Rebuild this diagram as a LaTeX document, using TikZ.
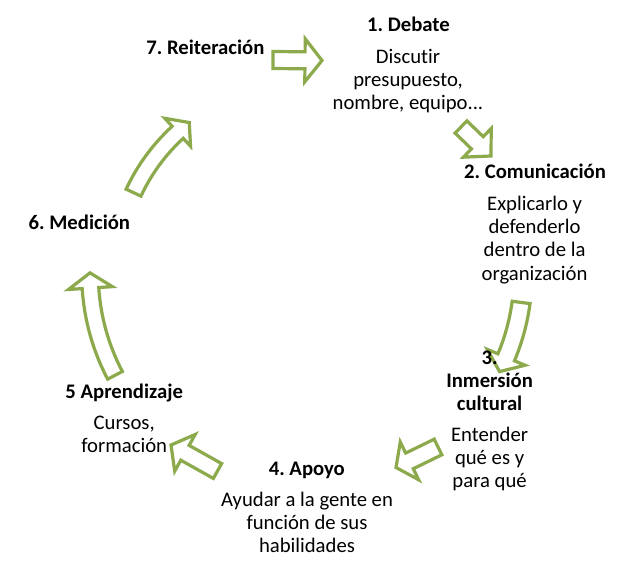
\documentclass[tikz,border=0pt]{standalone}
\usepackage{fontspec}
\setmainfont{Carlito}[Ligatures=NoCommon]
\usetikzlibrary{calc}
\definecolor{arrgreen}{HTML}{8CAA4C}
\frenchspacing
\newcommand\blockarrow[5]{%
  \coordinate (#2-b) at ($(#2)!#5!(#1)$);
  \draw[arr] ($(#1)!#3!90:(#2)$) -- ($(#2-b)!#3!90:(#2)$) -- ($(#2-b)!#4!90:(#2)$) -- (#2)
    -- ($(#2-b)!#4!-90:(#2)$) -- ($(#2-b)!#3!-90:(#2)$) -- ($(#1)!#3!-90:(#2)$) -- cycle;}
% #1 radius, #2 start angle, #3 shaft end angle, #4 tip angle, #5 outer shaft radius, #6 inner shaft radius, #7 outer wing radius, #8 inner wing radius
\newcommand\curvedarrow[8]{%
  \draw[arr] (#2:#5) arc[start angle=#2, end angle=#3, radius=#5 pt] -- (#3:#7) -- (#4:#1) -- (#3:#8)
    -- (#3:#6) arc[start angle=#3, end angle=#2, radius=#6 pt] -- cycle;}
\begin{document}
\begin{tikzpicture}[x=1pt,y=1pt,
  arr/.style={draw=arrgreen, fill=white, line width=3.2pt, line join=miter},
  ttl/.style={font=\bfseries\fontsize{20.7}{23.2}\selectfont, inner sep=0pt, text height=14pt, text depth=4pt},
  ttlm/.style={font=\bfseries\fontsize{20.7}{23.2}\selectfont, inner sep=0pt, align=center, anchor=north},
  bdy/.style={font=\fontsize{20.7}{23.2}\selectfont, inner sep=0pt, align=center, anchor=north}]
\fill[white] (0,0) rectangle (625,586);
\useasboundingbox (0,0) rectangle (625,586);

% straight block arrows
\coordinate (a1t) at (273,526);   \coordinate (a1p) at (322,525.5);
\blockarrow{a1t}{a1p}{8.5pt}{21.5pt}{17pt}
\coordinate (a2t) at (461,459);   \coordinate (a2p) at (491,430);
\blockarrow{a2t}{a2p}{8.5pt}{20pt}{19pt}
\coordinate (a4t) at (438,139);   \coordinate (a4p) at (396,118.5);
\blockarrow{a4t}{a4p}{8.7pt}{21pt}{15pt}
\coordinate (a5t) at (217.5,115); \coordinate (a5p) at (171,141);
\blockarrow{a5t}{a5p}{8.5pt}{21pt}{16pt}

% curved block arrows around the cycle centre
\begin{scope}[shift={(308,312)}]
  \curvedarrow{215}{-7.6}{-22.8}{-27}{224}{206}{235.5}{194.5}
  \curvedarrow{218}{207.7}{183.7}{179.7}{226.3}{209.7}{240}{196}
  \curvedarrow{192.5}{155}{132.6}{128.1}{200.7}{184.3}{211.5}{173.5}
\end{scope}

% titles and bodies
\node[ttl] (t1) at (408.5,559.6) {1. Debate};
\node[bdy] (b1) at (408,537.1) {Discutir\\presupuesto,\\nombre, equipo...};
\node[ttl] (t2) at (535,412.3) {2. Comunicación};
\node[bdy] (b2) at (534.6,390.1) {Explicarlo y\\defenderlo\\dentro de la\\organización};
\node[ttlm] (t3) at (489.6,235.5) {3.\\Inmersión\\cultural};
\node[bdy] (b3) at (489.6,159.5) {Entender\\qué es y\\para qué};
\node[ttl] (t4) at (306.8,115.8) {4. Apoyo};
\node[bdy] (b4) at (307,94) {Ayudar a la gente en\\función de sus\\habilidades};
\node[ttl] (t5) at (124.2,192.5) {5 Aprendizaje};
\node[bdy] (b5) at (124.2,170) {Cursos,\\formación};
\node[ttl] (t6) at (79.4,361.8) {6. Medición};
\node[ttl] (t7) at (205.4,536.4) {7. Reiteración};
\end{tikzpicture}
\end{document}
